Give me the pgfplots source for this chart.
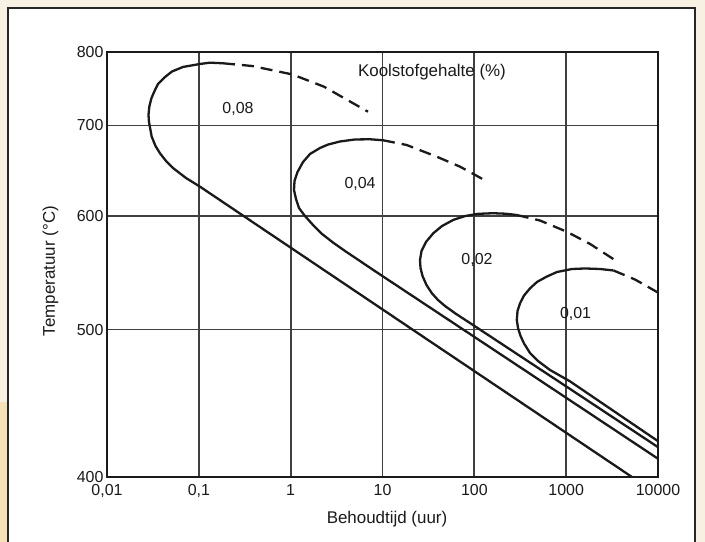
\documentclass[border=0pt]{standalone}
\usepackage{fontspec}
\setmainfont{Liberation Sans}
\usepackage{pgfplots}
\pgfplotsset{compat=1.18}
\definecolor{cream}{HTML}{F6F1E2}
\definecolor{ink}{HTML}{1A1A1A}
\definecolor{gridc}{HTML}{404040}
\definecolor{scanorange}{HTML}{F7E2B8}
\begin{document}
\begin{tikzpicture}[x=1bp,y=1bp]
\useasboundingbox (0,0) rectangle (705,542);
\fill[cream] (0,0) rectangle (705,542);
\fill[scanorange] (0,0) rectangle (8,140);
\fill[white] (8,0) rectangle (695,534);
\draw[line width=1.5bp, black!85] (8,0) -- (8,534) -- (695,534) -- (695,0);
\begin{axis}[
  at={(107bp,65bp)}, anchor=south west,
  scale only axis, width=551bp, height=425bp,
  xmode=log, xmin=0.01, xmax=10000,
  ymin=400, ymax=800,
  y coord trafo/.code={\pgfmathparse{-1000/(#1+273)}},
  xtick={0.01,0.1,1,10,100,1000,10000},
  xticklabels={{0,01},{0,1},1,10,100,1000,10000},
  ytick={400,500,600,700,800},
  yticklabels={400,500,600,700,800},
  grid=major,
  major grid style={line width=1.8bp, color=gridc},
  axis line style={line width=2bp, color=ink},
  major tick length=0pt, minor tick length=0pt,
  tick label style={font=\fontsize{16}{16}\selectfont, text=ink},
  xticklabel style={yshift=-4bp},
  label style={font=\fontsize{17}{17}\selectfont, text=ink},
  xlabel={Behoudtijd (uur)},
  ylabel={Temperatuur (°C)},
  xlabel style={at={(axis description cs:0.5082,-0.0988)}, anchor=center},
  ylabel style={at={(axis description cs:-0.1024,0.4847)}, anchor=center},
  curve/.style={color=ink, line width=2.3bp, no markers, solid},
  dcurve/.style={color=ink, line width=2.3bp, no markers, dash pattern=on 12bp off 7bp},
]
% 0.08 %
\addplot[curve] coordinates {
(0.1833,783.3) (0.1323,784.2) (0.10297,782.3) (0.06723,778.0) (0.05103,771.5)
(0.04281,763.7) (0.03593,754.0) (0.03332,745.9) (0.03052,735.1) (0.02888,723.7)
(0.02831,713.1) (0.02867,704.3) (0.03067,686.4) (0.03374,675.3) (0.03777,666.9)
(0.04391,658.1) (0.05272,649.9) (0.0725,639.3) (0.10297,629.9) (23.16,498.1)
(5210,400.0)
};
\addplot[dcurve] coordinates {
(0.1833,783.3) (0.3792,779.4) (1.0445,767.3) (2.307,750.3) (6.952,717.4)
};
% 0.04 %
\addplot[curve] coordinates {
(10.125,682.1) (7.311,683.3) (5.019,683.0) (3.445,680.6) (2.550,677.1)
(2.086,673.0) (1.6237,666.1) (1.3624,656.9) (1.1869,645.8) (1.1008,636.0)
(1.0872,626.4) (1.1433,617.0) (1.2326,607.8) (1.4322,599.8) (1.7508,591.0)
(2.194,582.3) (2.891,574.3) (3.906,566.4) (5.689,557.3) (7.941,549.3)
(280.7,473.9) (9924,411.1)
};
\addplot[dcurve] coordinates {
(10.125,682.1) (18.34,676.5) (38.93,663.0) (69.81,651.7) (125.85,637.6)
};
% 0.02 %
\addplot[curve] coordinates {
(289.3,600.8) (215.8,602.1) (159.7,602.6) (109.6,602.0) (79.13,599.8)
(59.02,595.9) (44.45,590.0) (35.74,583.0) (29.77,574.8) (26.59,566.4)
(25.61,558.2) (25.93,551.1) (27.27,544.1) (30.14,536.3) (34.59,529.1)
(40.22,523.7) (47.92,518.8) (63.15,512.3) (89.72,505.1) (943.6,459.2)
(9924,418.2)
};
\addplot[dcurve] coordinates {
(289.3,600.8) (518.9,595.4) (1013.5,584.5) (1818,572.9) (3318,558.7)
};
% 0.01 %
\addplot[curve] coordinates {
(3277,548.9) (2336,550.2) (1604,550.6) (1157.3,550.2) (794.9,547.5)
(613.8,543.6) (481.3,538.9) (403.9,533.5) (347.4,527.4) (314.3,521.0)
(295.3,514.7) (290.1,507.5) (299.0,501.2) (318.3,495.0) (347.4,489.3)
(403.9,482.1) (493.5,476.2) (666.8,469.7) (1100.7,461.6) (9924,422.0)
};
\addplot[dcurve] coordinates {
(3277,548.9) (5618,541.0) (9924,530.0)
};
\node[font=\fontsize{16}{16}\selectfont, text=ink] at (rel axis cs:0.2377,0.8659) {0,08};
\node[font=\fontsize{16}{16}\selectfont, text=ink] at (rel axis cs:0.4592,0.6894) {0,04};
\node[font=\fontsize{16}{16}\selectfont, text=ink] at (rel axis cs:0.6715,0.5106) {0,02};
\node[font=\fontsize{16}{16}\selectfont, text=ink] at (rel axis cs:0.8503,0.3847) {0,01};
\node[font=\fontsize{17}{17}\selectfont, text=ink] at (rel axis cs:0.5898,0.9529) {Koolstofgehalte (\%)};
\end{axis}
\end{tikzpicture}
\end{document}
